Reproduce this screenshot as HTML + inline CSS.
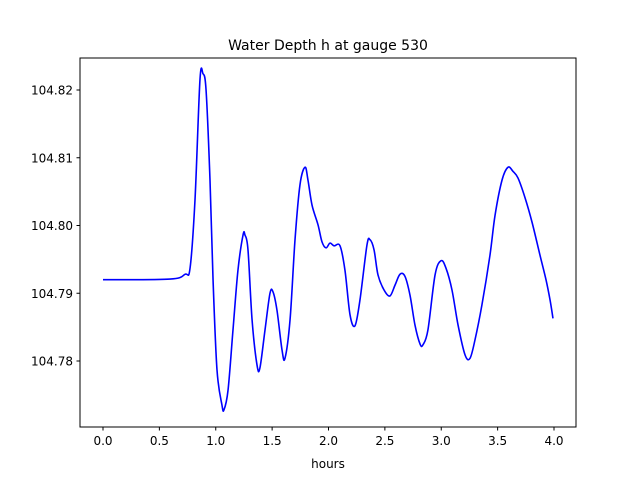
<!DOCTYPE html>
<html><head><meta charset="utf-8"><style>
body{margin:0;background:#fff;font-family:"DejaVu Sans","Liberation Sans",sans-serif;}
</style></head><body>
<svg id="chart" width="640" height="480" xmlns="http://www.w3.org/2000/svg" font-family="DejaVu Sans, Liberation Sans, sans-serif">
<rect width="640" height="480" fill="#fff"/>
<text x="328" y="50" text-anchor="middle" font-size="14">Water Depth h at gauge 530</text>
<text x="328" y="468" text-anchor="middle" font-size="12">hours</text>
<g id="ticks"></g>
<path id="line" fill="none" stroke="#0000ff" stroke-width="1.6"/>
<rect x="80" y="58" width="496" height="369" fill="none" stroke="#000" stroke-width="1"/>
</svg>
<script>
const hours=[0,0.594,0.727,0.772,0.816,0.860,0.887,0.914,0.949,0.976,1.011,1.055,1.073,1.109,1.153,1.197,1.242,1.259,1.286,1.322,1.366,1.392,1.437,1.481,1.508,1.543,1.588,1.614,1.659,1.703,1.747,1.792,1.818,1.854,1.907,1.942,1.978,2.013,2.049,2.102,2.146,2.191,2.235,2.279,2.341,2.368,2.404,2.439,2.492,2.545,2.590,2.634,2.678,2.723,2.767,2.812,2.838,2.882,2.945,2.998,3.042,3.095,3.149,3.211,3.255,3.299,3.361,3.432,3.477,3.539,3.592,3.636,3.681,3.743,3.805,3.876,3.929,3.965,3.991];
const depth=[104.7920,104.7921,104.7928,104.7937,104.8038,104.8215,104.8224,104.8200,104.8067,104.7920,104.7787,104.7735,104.7728,104.7757,104.7846,104.7934,104.7986,104.7986,104.7964,104.7861,104.7794,104.7790,104.7846,104.7900,104.7902,104.7875,104.7816,104.7804,104.7861,104.7979,104.8060,104.8086,104.8067,104.8030,104.8001,104.7976,104.7967,104.7974,104.7970,104.7970,104.7934,104.7868,104.7852,104.7890,104.7971,104.7979,104.7964,104.7927,104.7905,104.7896,104.7912,104.7928,104.7925,104.7897,104.7853,104.7825,104.7824,104.7846,104.7927,104.7948,104.7937,104.7905,104.7853,104.7809,104.7804,104.7831,104.7883,104.7956,104.8015,104.8067,104.8086,104.8080,104.8070,104.8041,104.8005,104.7956,104.7920,104.7890,104.7863];
const xTicks=[0,0.5,1,1.5,2,2.5,3,3.5,4];
const xTickLabels=["0.0","0.5","1.0","1.5","2.0","2.5","3.0","3.5","4.0"];
const yTicks=[104.78,104.79,104.80,104.81,104.82];
const yTickLabels=["104.78","104.79","104.80","104.81","104.82"];
const xs=h=>103+h*112.75;
const ys=v=>361-(v-104.78)*6775;
const NS="http://www.w3.org/2000/svg";
const g=document.getElementById('ticks');
xTicks.forEach((t,i)=>{
  const l=document.createElementNS(NS,'line');
  
  
  l.setAttribute('x1',xs(t));l.setAttribute('x2',xs(t));l.setAttribute('y1',427);l.setAttribute('y2',430.5);l.setAttribute('stroke','#000');
  g.appendChild(l);
  const tx=document.createElementNS(NS,'text');
  
  
  tx.setAttribute('x',xs(t));tx.setAttribute('y',445);tx.setAttribute('text-anchor','middle');tx.setAttribute('font-size','12');
  tx.textContent=xTickLabels[i];g.appendChild(tx);
});
yTicks.forEach((t,i)=>{
  const l=document.createElementNS(NS,'line');
  
  
  l.setAttribute('x1',76.5);l.setAttribute('x2',80);l.setAttribute('y1',ys(t));l.setAttribute('y2',ys(t));l.setAttribute('stroke','#000');
  g.appendChild(l);
  const tx=document.createElementNS(NS,'text');
  
  
  tx.setAttribute('x',73);tx.setAttribute('y',ys(t)+4.5);tx.setAttribute('text-anchor','end');tx.setAttribute('font-size','12');
  tx.textContent=yTickLabels[i];g.appendChild(tx);
});
// Catmull-Rom smoothing
const P=hours.map((h,i)=>[xs(h),ys(depth[i])]);
let d='M'+P[0][0]+','+P[0][1];
for(let i=0;i<P.length-1;i++){
  const p0=P[Math.max(0,i-1)],p1=P[i],p2=P[i+1],p3=P[Math.min(P.length-1,i+2)];
  const c1=[p1[0]+(p2[0]-p0[0])/6,p1[1]+(p2[1]-p0[1])/6];
  const c2=[p2[0]-(p3[0]-p1[0])/6,p2[1]-(p3[1]-p1[1])/6];
  d+=' C'+c1[0]+','+c1[1]+' '+c2[0]+','+c2[1]+' '+p2[0]+','+p2[1];
}
document.getElementById('line').setAttribute('d',d);
</script>
</body></html>
